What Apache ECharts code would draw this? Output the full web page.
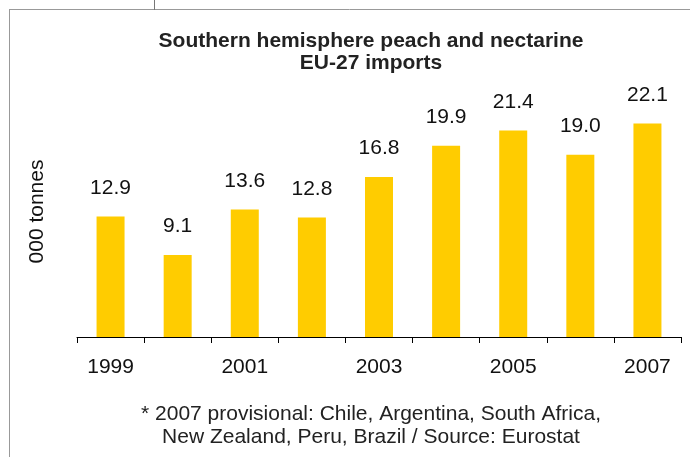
<!DOCTYPE html>
<html>
<head>
<meta charset="utf-8">
<script src="https://cdn.jsdelivr.net/npm/echarts@6/dist/echarts.min.js"></script>
<style>
  html, body { margin: 0; padding: 0; background: #fff; }
  #chart { width: 690px; height: 457px; }
</style>
</head>
<body>
<div id="chart"></div>
<script>
// years on the x axis
const years = ['1999', '2000', '2001', '2002', '2003', '2004', '2005', '2006', '2007']
// imports, 000 tonnes
const imports = [12.9, 9.1, 13.6, 12.8, 16.8, 19.9, 21.4, 19.0, 22.1]

const chart = echarts.init(document.getElementById('chart'), null, { renderer: 'canvas' })

const option = {
  backgroundColor: '#fff',
  animation: false,
  title: [
    {
      text: 'Southern hemisphere peach and nectarine\nEU-27 imports',
      left: 366,
      top: 25,
      textAlign: 'center',
      textStyle: {
        fontFamily: 'Liberation Sans',
        fontSize: 21,
        fontWeight: 'bold',
        color: '#222',
        lineHeight: 22
      }
    },
    {
      text: '* 2007 provisional: Chile, Argentina, South Africa,\nNew Zealand, Peru, Brazil / Source: Eurostat',
      left: 366,
      top: 398,
      textAlign: 'center',
      textStyle: {
        fontFamily: 'Liberation Sans',
        fontSize: 21,
        fontWeight: 'normal',
        color: '#222',
        lineHeight: 23
      }
    }
  ],
  grid: {
    left: 77,
    right: 9,
    top: 86,
    bottom: 120
  },
  xAxis: {
    type: 'category',
    data: years,
    axisLine: { lineStyle: { color: '#000', width: 1 } },
    axisTick: { show: true, interval: 0, length: 6, lineStyle: { color: '#000', width: 1 } },
    axisLabel: {
      interval: 1,
      margin: 20,
      fontFamily: 'Liberation Sans',
      fontSize: 21,
      color: '#111'
    }
  },
  yAxis: {
    type: 'value',
    min: 1,
    max: 25.8,
    name: '000 tonnes',
    nameLocation: 'middle',
    nameRotate: 90,
    nameGap: 29,
    nameTextStyle: {
      fontFamily: 'Liberation Sans',
      fontSize: 21,
      color: '#111'
    },
    axisLine: { show: false },
    axisTick: { show: false },
    axisLabel: { show: false },
    splitLine: { show: false }
  },
  series: [
    {
      type: 'bar',
      data: imports,
      barWidth: 28,
      itemStyle: { color: '#FFCC00' },
      label: {
        show: true,
        position: 'top',
        distance: 18,
        formatter: p => p.value.toFixed(1),
        fontFamily: 'Liberation Sans',
        fontSize: 21,
        color: '#111'
      }
    }
  ],
  // frame lines around the chart area
  graphic: [
    { type: 'line', shape: { x1: 9.5, y1: 10, x2: 9.5, y2: 457 }, style: { stroke: '#999', lineWidth: 1 } },
    { type: 'line', shape: { x1: 9, y1: 9.5, x2: 690, y2: 9.5 }, style: { stroke: '#999', lineWidth: 1 } },
    { type: 'line', shape: { x1: 154.5, y1: 0, x2: 154.5, y2: 10 }, style: { stroke: '#777', lineWidth: 1 } }
  ]
}

chart.setOption(option)
</script>
</body>
</html>
